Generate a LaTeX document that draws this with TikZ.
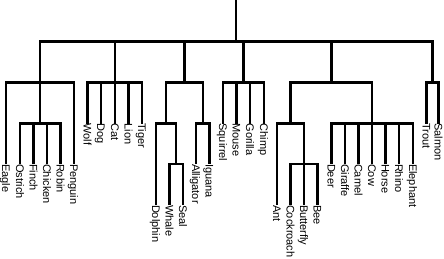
\documentclass[tikz,border=0pt]{standalone}
\usepackage{fontspec}
\setmainfont{Liberation Sans}
\begin{document}
\begin{tikzpicture}[x=1pt,y=-1pt,
  br/.style={line width=2.4pt, line join=miter},
  lbl/.style={rotate=-90, anchor=west, inner sep=0pt, outer sep=0pt,
    font=\fontsize{11}{13}\selectfont, text height=7.9pt, text depth=0pt}]
\useasboundingbox (0,0) rectangle (444,258);
% leaf labels
\node[lbl] (eagle)     at (6,164)     {Eagle};
\node[lbl] (ostrich)   at (20,164)    {Ostrich};
\node[lbl] (finch)     at (33.5,164)  {Finch};
\node[lbl] (chicken)   at (47,164)    {Chicken};
\node[lbl] (robin)     at (60.5,164)  {Robin};
\node[lbl] (penguin)   at (74,164)    {Penguin};
\node[lbl] (wolf)      at (87.5,123.5)  {Wolf};
\node[lbl] (dog)       at (101,123.5)   {Dog};
\node[lbl] (cat)       at (115,123.5)   {Cat};
\node[lbl] (lion)      at (128.5,123.5) {Lion};
\node[lbl] (tiger)     at (142,123.5)   {Tiger};
\node[lbl] (dolphin)   at (156,205)   {Dolphin};
\node[lbl] (whale)     at (169.5,205) {Whale};
\node[lbl] (seal)      at (183,205)   {Seal};
\node[lbl] (alligator) at (196,164)   {Alligator};
\node[lbl] (iguana)    at (209.5,164) {Iguana};
\node[lbl] (squirrel)  at (223,123.5)   {Squirrel};
\node[lbl] (mouse)     at (236.5,123.5) {Mouse};
\node[lbl] (gorilla)   at (250,123.5)   {Gorilla};
\node[lbl] (chimp)     at (264,123.5)   {Chimp};
\node[lbl] (ant)       at (277,205)   {Ant};
\node[lbl] (cockroach) at (290.5,205) {Cockroach};
\node[lbl] (butterfly) at (304,205)   {Butterfly};
\node[lbl] (bee)       at (317.5,205) {Bee};
\node[lbl] (deer)      at (331.5,164) {Deer};
\node[lbl] (giraffe)   at (345,164)   {Giraffe};
\node[lbl] (camel)     at (358.5,164) {Camel};
\node[lbl] (cow)       at (372,164)   {Cow};
\node[lbl] (horse)     at (385.5,164) {Horse};
\node[lbl] (rhino)     at (399,164)   {Rhino};
\node[lbl] (elephant)  at (413,164)   {Elephant};
\node[lbl] (trout)     at (426.5,123.5) {Trout};
\node[lbl] (salmon)    at (438.5,123.5) {Salmon};
% internal nodes
\coordinate (top)   at (236.25,0);
\coordinate (r)     at (236.25,41.5);
\coordinate (birds) at (40,82.5);
\coordinate (bsub)  at (40,123.5);
\coordinate (carn)  at (114.75,82.5);
\coordinate (g3)    at (184.4,82.5);
\coordinate (dsub)  at (166.1,123.5);
\coordinate (ws)    at (176.25,164);
\coordinate (rept)  at (202.75,123.5);
\coordinate (rod)   at (243.5,82.5);
\coordinate (g5)    at (331.4,82.5);
\coordinate (ins)   at (290.5,123.5);
\coordinate (isub)  at (304,164);
\coordinate (ung)   at (372.25,123.5);
\coordinate (fish)  at (432.5,82.5);
% connectors
\draw[br] (top) -- (r);
\draw[br] (birds) |- (r) -| (fish);
\foreach \c in {carn,g3,rod,g5} \draw[br] (\c) -- (\c |- r);
\draw[br] (eagle.west) |- (birds) -| (penguin.west);
\draw[br] (bsub) -- (bsub |- birds);
\draw[br] (ostrich.west) |- (bsub) -| (robin.west);
\foreach \c in {finch,chicken} \draw[br] (\c.west) -- (\c.west |- bsub);
\draw[br] (wolf.west) |- (carn) -| (tiger.west);
\foreach \c in {dog,cat,lion} \draw[br] (\c.west) -- (\c.west |- carn);
\draw[br] (dsub) |- (g3) -| (rept);
\draw[br] (dolphin.west) |- (dsub) -| (ws);
\draw[br] (whale.west) |- (ws) -| (seal.west);
\draw[br] (alligator.west) |- (rept) -| (iguana.west);
\draw[br] (squirrel.west) |- (rod) -| (chimp.west);
\foreach \c in {mouse,gorilla} \draw[br] (\c.west) -- (\c.west |- rod);
\draw[br] (ins) |- (g5) -| (ung);
\draw[br] (ant.west) |- (ins) -| (isub);
\draw[br] (cockroach.west) |- (isub) -| (bee.west);
\draw[br] (butterfly.west) -- (butterfly.west |- isub);
\draw[br] (deer.west) |- (ung) -| (elephant.west);
\foreach \c in {giraffe,camel,cow,horse,rhino} \draw[br] (\c.west) -- (\c.west |- ung);
\draw[br] (trout.west) |- (fish) -| (salmon.west);
\end{tikzpicture}
\end{document}
